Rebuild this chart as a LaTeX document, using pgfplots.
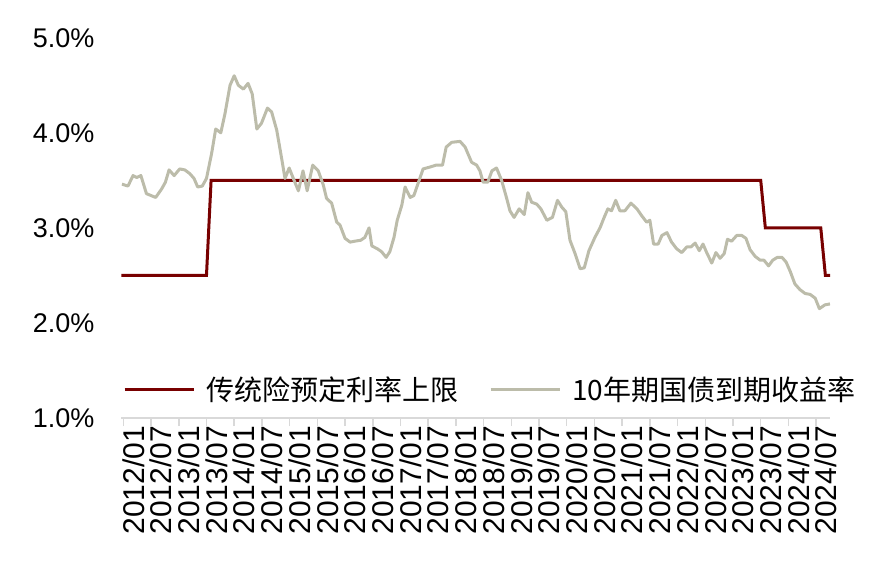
\documentclass[border=0pt]{standalone}
\usepackage{fontspec}
\usepackage{pgfplots}
\pgfplotsset{compat=1.18}
\setmainfont{Liberation Sans}
\newfontfamily\cjk{Noto Sans CJK SC}
\definecolor{capred}{RGB}{120,0,0}
\definecolor{bondgrey}{RGB}{188,188,170}
\definecolor{axgrey}{RGB}{217,217,217}

\begin{document}
\begin{tikzpicture}
\begin{axis}[
  name=ax,
  scale only axis,
  width=708.5bp, height=380.25bp,
  xmin=-0.4, xmax=153,
  ymin=1, ymax=5,
  axis x line*=bottom,
  axis y line*=left,
  y axis line style={draw=none},
  x axis line style={color=axgrey, line width=2.5bp},
  xtick={0,6,...,150},
  xticklabels={2012/01,2012/07,2013/01,2013/07,2014/01,2014/07,2015/01,2015/07,2016/01,2016/07,2017/01,2017/07,2018/01,2018/07,2019/01,2019/07,2020/01,2020/07,2021/01,2021/07,2022/01,2022/07,2023/01,2023/07,2024/01,2024/07},
  ytick={1,2,3,4,5},
  yticklabels={1.0\%,2.0\%,3.0\%,4.0\%,5.0\%},
  tick align=outside,
  major tick length=8bp,
  xtick style={color=axgrey, line width=1.5bp},
  ytick style={draw=none},
  xticklabel style={rotate=90, anchor=east, inner sep=0pt, yshift=-10bp,
    font=\fontsize{30bp}{34bp}\selectfont},
  yticklabel style={anchor=east, inner sep=0pt, xshift=-19bp,
    font=\fontsize{27bp}{32bp}\selectfont},
  legend columns=2,
  legend style={draw=none, fill=none, inner sep=0pt, at={(0.002,0.074)}, anchor=west,
    font=\cjk\fontsize{28bp}{32bp}\selectfont,
    nodes={inner sep=0pt},
    column sep=11bp,
    /tikz/every even column/.append style={column sep=31bp}},
  legend image code/.code={\draw[#1] (0bp,0bp) -- (69bp,0bp);},
]
\addplot[color=capred, line width=3bp] coordinates {
(-0.4,2.5) (18,2.5) (19,3.5) (138,3.5) (139,3.0) (151,3.0) (152,2.5) (153,2.5)
};
\addlegendentry{传统险预定利率上限}
\addplot[color=bondgrey, line width=3bp, line join=round] coordinates {
(-0.3,3.46) (1.0,3.44) (2.1,3.55) (2.9,3.53) (3.8,3.55) (5.0,3.36) (6.0,3.34) (7.0,3.32)
(8.3,3.41) (9.1,3.48) (9.9,3.61) (11.0,3.55) (12.2,3.62) (13.3,3.61) (14.4,3.57) (15.3,3.52)
(16.1,3.43) (17.1,3.44) (18.0,3.52) (19.1,3.78) (20.0,4.04) (21.1,4.00) (22.0,4.20) (23.1,4.50)
(24.0,4.60) (24.9,4.50) (26.0,4.46) (27.0,4.52) (27.9,4.41) (28.9,4.04) (29.9,4.10) (31.2,4.26)
(32.1,4.22) (33.2,4.03) (34.1,3.78) (35.0,3.52) (35.9,3.63) (36.8,3.52) (37.9,3.39) (38.9,3.60)
(39.8,3.39) (41.0,3.66) (42.2,3.60) (43.3,3.45) (44.0,3.31) (45.1,3.26) (46.2,3.06) (46.9,3.03)
(48.0,2.89) (49.1,2.85) (50.1,2.86) (51.4,2.87) (52.3,2.90) (53.2,3.00) (53.8,2.81) (55.0,2.78)
(55.9,2.75) (56.9,2.69) (57.7,2.75) (58.6,2.90) (59.3,3.08) (60.3,3.24) (61.0,3.43) (62.1,3.32)
(62.9,3.34) (63.9,3.48) (64.9,3.62) (66.4,3.64) (67.7,3.66) (69.1,3.66) (69.9,3.85) (71.1,3.90)
(72.9,3.91) (74.0,3.85) (75.4,3.69) (76.5,3.66) (77.2,3.60) (77.9,3.48) (78.9,3.48) (79.8,3.60)
(80.8,3.63) (81.9,3.50) (83.0,3.31) (83.7,3.18) (84.6,3.11) (85.7,3.20) (86.8,3.14) (87.6,3.37)
(88.4,3.27) (89.5,3.25) (90.4,3.20) (91.7,3.08) (92.9,3.11) (94.0,3.29) (94.9,3.22) (95.8,3.17)
(96.7,2.87) (97.8,2.73) (98.9,2.57) (99.8,2.58) (100.8,2.76) (102.1,2.90) (103.2,3.00) (104.1,3.11)
(104.9,3.20) (105.7,3.18) (106.6,3.29) (107.5,3.18) (108.6,3.18) (109.9,3.26) (111.2,3.20) (112.2,3.13)
(113.3,3.06) (114.0,3.08) (114.8,2.83) (115.8,2.83) (116.6,2.92) (117.7,2.95) (118.7,2.85) (119.8,2.78)
(120.9,2.74) (122.0,2.80) (122.9,2.80) (123.8,2.84) (124.7,2.76) (125.5,2.83) (126.3,2.74) (127.4,2.63)
(128.3,2.74) (129.2,2.68) (130.1,2.73) (130.8,2.88) (131.7,2.86) (132.8,2.92) (133.9,2.92) (134.8,2.89)
(135.7,2.77) (136.8,2.70) (137.9,2.66) (138.7,2.66) (139.7,2.60) (140.6,2.66) (141.6,2.69) (142.6,2.69)
(143.5,2.64) (144.4,2.54) (145.4,2.41) (146.5,2.35) (147.6,2.31) (148.7,2.30) (149.8,2.26) (150.7,2.15)
(151.9,2.19) (153.0,2.20)
};
\addlegendentry{10年期国债到期收益率}
\end{axis}
\pgfresetboundingbox
\path (ax.south west) ++(-121.5bp,-148bp) rectangle ++(884bp,566bp);
\end{tikzpicture}
\end{document}
